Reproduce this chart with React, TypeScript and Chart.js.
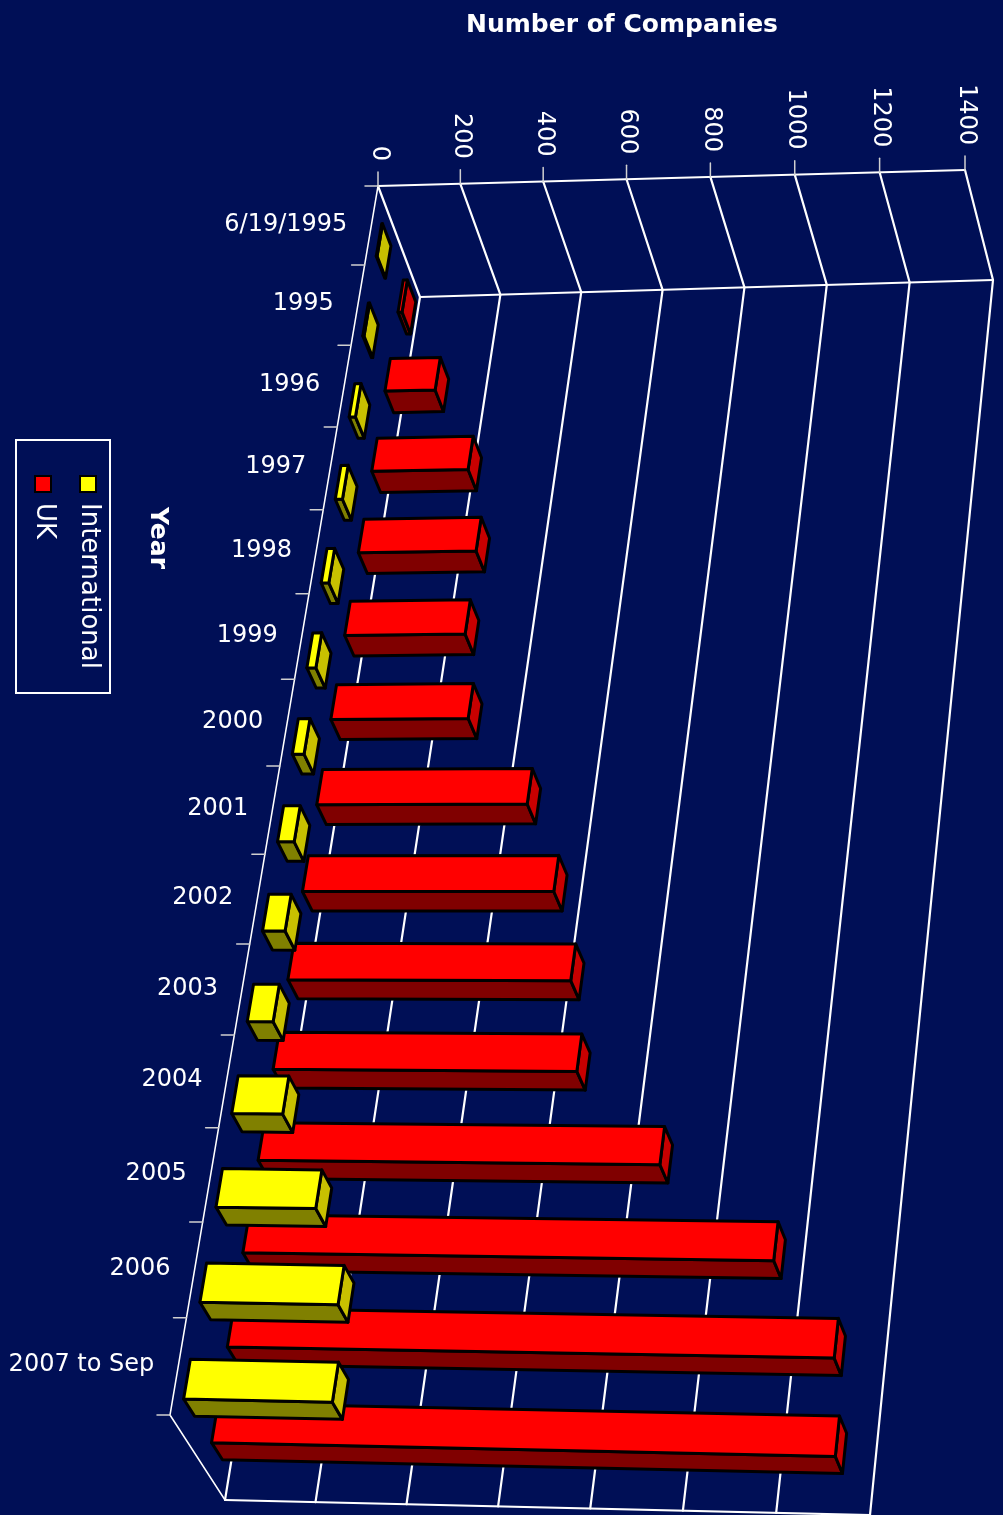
import React, { useEffect, useRef } from 'react';
import { Chart, registerables } from 'chart.js';

Chart.register(...registerables);

// ---- data ----
const categories = ['6/19/1995', '1995', '1996', '1997', '1998', '1999', '2000', '2001', '2002', '2003', '2004', '2005', '2006', '2007 to Sep'];
const ukValues = [10, 122, 232, 281, 285, 322, 488, 577, 643, 684, 894, 1166, 1318, 1342];
const internationalValues = [2, 3, 15, 17, 18, 21, 27, 38, 51, 58, 113, 219, 300, 320];
const valueMin = 0;
const valueMax = 1400;
const valueStep = 200;

// ---- style / frame geometry (perspective box) ----
const BG = '#000f56';
const FONT = '"DejaVu Sans", "Liberation Sans", sans-serif';
const FRONT = { o: [378, 186], u: [965, 170], t: [170, 1415], ut: [835, 1430] };
const BACK = { o: [420, 297], u: [993, 280], t: [225, 1500], ut: [870, 1515] };
const CU = 0.021;
const CT = 0.106;
const T_SHIFT = 0.0032;
const BAR_DX = 4;
const SERIES_STYLE: Record<string, { d1: number; d2: number; front: string; end: string; bottom: string }> = {
  International: { d1: 0.1, d2: 0.3, front: '#ffff00', end: '#c8c000', bottom: '#808000' },
  UK: { d1: 0.61, d2: 0.81, front: '#ff0000', end: '#c80000', bottom: '#800000' },
};

type Q = { o: number[]; u: number[]; t: number[]; ut: number[] };

function bil(q: Q, up: number, tp: number): [number, number] {
  const x = (1 - tp) * ((1 - up) * q.o[0] + up * q.u[0]) + tp * ((1 - up) * q.t[0] + up * q.ut[0]);
  const y = (1 - tp) * ((1 - up) * q.o[1] + up * q.u[1]) + tp * ((1 - up) * q.t[1] + up * q.ut[1]);
  return [x, y];
}

function proj(u: number, t: number, d: number): [number, number] {
  const up = (u * (1 - CU)) / (1 - CU * u);
  const tp = (t * (1 - CT)) / (1 - CT * t);
  const f = bil(FRONT, up, tp);
  const b = bil(BACK, up, tp);
  return [f[0] + (b[0] - f[0]) * d, f[1] + (b[1] - f[1]) * d];
}

function projBar(u: number, t: number, d: number): [number, number] {
  const p = proj(u, t, d);
  return [p[0] + BAR_DX, p[1]];
}

function line(ctx: CanvasRenderingContext2D, a: number[], b: number[]) {
  ctx.beginPath();
  ctx.moveTo(a[0], a[1]);
  ctx.lineTo(b[0], b[1]);
  ctx.stroke();
}

function poly(ctx: CanvasRenderingContext2D, pts: number[][], fill: string) {
  ctx.beginPath();
  ctx.moveTo(pts[0][0], pts[0][1]);
  for (let i = 1; i < pts.length; i++) ctx.lineTo(pts[i][0], pts[i][1]);
  ctx.closePath();
  ctx.fillStyle = fill;
  ctx.fill();
  ctx.stroke();
}

function rotText(ctx: CanvasRenderingContext2D, text: string, x: number, y: number, align: CanvasTextAlign) {
  ctx.save();
  ctx.translate(x, y);
  ctx.rotate(Math.PI / 2);
  ctx.textAlign = align;
  ctx.textBaseline = 'middle';
  ctx.fillText(text, 0, 0);
  ctx.restore();
}

function normalizers(chart: any) {
  const xs = chart.scales.x;
  const ys = chart.scales.y;
  const x0 = xs.getPixelForValue(valueMin);
  const x1 = xs.getPixelForValue(valueMax);
  const n = categories.length;
  const y0 = ys.getPixelForValue(-0.5);
  const y1 = ys.getPixelForValue(n - 0.5);
  return {
    xs,
    ys,
    nu: (px: number) => (px - x0) / (x1 - x0),
    nt: (py: number) => (py - y0) / (y1 - y0),
  };
}

const threeDPlugin = {
  id: 'threeD',
  beforeDraw(chart: any) {
    const ctx: CanvasRenderingContext2D = chart.ctx;
    const { xs, ys, nu, nt } = normalizers(chart);
    ctx.save();
    ctx.fillStyle = BG;
    ctx.fillRect(0, 0, chart.width, chart.height);

    ctx.lineCap = 'round';
    // gridlines across side wall and back wall
    ctx.strokeStyle = '#ffffff';
    ctx.lineWidth = 2.2;
    const ticks = xs.ticks as { value: number; label: string }[];
    ticks.forEach((tk) => {
      const u = nu(xs.getPixelForValue(tk.value));
      line(ctx, proj(u, 0, 0), proj(u, 0, 1));
      line(ctx, proj(u, 0, 1), proj(u, 1, 1));
    });
    // box edges
    line(ctx, proj(0, 0, 0), proj(1, 0, 0));
    line(ctx, proj(0, 0, 1), proj(1, 0, 1));
    line(ctx, proj(0, 1, 1), proj(1, 1, 1));
    ctx.lineWidth = 1.5;
    line(ctx, proj(0, 0, 0), proj(0, 1, 0));
    line(ctx, proj(0, 1, 0), proj(0, 1, 1));

    // value ticks + labels
    ctx.strokeStyle = '#d0d0d0';
    ctx.lineWidth = 1.5;
    ctx.fillStyle = '#ffffff';
    ctx.font = `24px ${FONT}`;
    ticks.forEach((tk) => {
      const u = nu(xs.getPixelForValue(tk.value));
      const p = proj(u, 0, 0);
      line(ctx, p, [p[0], p[1] - 14]);
      rotText(ctx, String(tk.label), p[0] + 1, p[1] - 25, 'right');
    });

    // category ticks + labels
    const n = categories.length;
    for (let i = 0; i <= n; i++) {
      const t = nt(ys.getPixelForValue(i - 0.5));
      const p = proj(0, t, 0);
      line(ctx, p, [p[0] - 13, p[1]]);
    }
    ctx.textAlign = 'right';
    ctx.textBaseline = 'middle';
    categories.forEach((c, i) => {
      const t = nt(ys.getPixelForValue(i));
      const p = proj(0, t, 0);
      ctx.fillText(c, p[0] - 24, p[1] - 1);
    });

    // titles
    ctx.font = `bold 25px ${FONT}`;
    ctx.textAlign = 'center';
    ctx.fillText('Number of Companies', 622, 25);
    rotText(ctx, 'Year', 157, 538, 'center');

    // legend
    ctx.strokeStyle = '#ffffff';
    ctx.lineWidth = 2;
    ctx.strokeRect(16, 440, 94, 253);
    const legendItems = [
      { name: 'International', x: 88 },
      { name: 'UK', x: 43 },
    ];
    ctx.font = `26px ${FONT}`;
    legendItems.forEach((it) => {
      const st = SERIES_STYLE[it.name];
      ctx.fillStyle = st.front;
      ctx.strokeStyle = '#000000';
      ctx.lineWidth = 2;
      ctx.fillRect(it.x - 8, 476, 16, 16);
      ctx.strokeRect(it.x - 8, 476, 16, 16);
      ctx.fillStyle = '#ffffff';
      rotText(ctx, it.name, it.x + 1, 503, 'left');
    });
    ctx.restore();
  },
  beforeDatasetsDraw() {
    return false;
  },
  afterDraw(chart: any) {
    const ctx: CanvasRenderingContext2D = chart.ctx;
    const { nu, nt } = normalizers(chart);
    ctx.save();
    ctx.strokeStyle = '#000000';
    ctx.lineWidth = 3;
    ctx.lineJoin = 'round';
    // back series first (UK), then front series (International)
    const order = chart.data.datasets
      .map((ds: any, i: number) => ({ ds, i }))
      .sort((a: any, b: any) => SERIES_STYLE[b.ds.label].d1 - SERIES_STYLE[a.ds.label].d1);
    order.forEach(({ ds, i }: any) => {
      const st = SERIES_STYLE[ds.label];
      const meta = chart.getDatasetMeta(i);
      meta.data.forEach((el: any) => {
        const p = el.getProps(['x', 'y', 'base', 'height'], true);
        const u0 = nu(p.base);
        const u1 = nu(p.x);
        const ta = nt(p.y - p.height / 2) + T_SHIFT;
        const tb = nt(p.y + p.height / 2) + T_SHIFT;
        const { d1, d2 } = st;
        poly(ctx, [projBar(u0, tb, d1), projBar(u1, tb, d1), projBar(u1, tb, d2), projBar(u0, tb, d2)], st.bottom);
        poly(ctx, [projBar(u1, ta, d1), projBar(u1, tb, d1), projBar(u1, tb, d2), projBar(u1, ta, d2)], st.end);
        poly(ctx, [projBar(u0, ta, d1), projBar(u1, ta, d1), projBar(u1, tb, d1), projBar(u0, tb, d1)], st.front);
      });
    });
    ctx.restore();
  },
};

export default function App() {
  const canvasRef = useRef<HTMLCanvasElement | null>(null);

  useEffect(() => {
    if (!canvasRef.current) return;
    const chart = new Chart(canvasRef.current, {
      type: 'bar',
      data: {
        labels: categories,
        datasets: [
          {
            label: 'International',
            data: internationalValues,
            backgroundColor: SERIES_STYLE.International.front,
            borderColor: '#000000',
            borderWidth: 2,
            grouped: false,
            barPercentage: 0.41,
            categoryPercentage: 1,
          } as any,
          {
            label: 'UK',
            data: ukValues,
            backgroundColor: SERIES_STYLE.UK.front,
            borderColor: '#000000',
            borderWidth: 2,
            grouped: false,
            barPercentage: 0.41,
            categoryPercentage: 1,
          } as any,
        ],
      },
      options: {
        indexAxis: 'y',
        animation: false,
        responsive: true,
        maintainAspectRatio: false,
        layout: { padding: 0 },
        plugins: {
          legend: { display: false },
          tooltip: { enabled: false },
          title: { display: false },
        },
        scales: {
          x: {
            type: 'linear',
            min: valueMin,
            max: valueMax,
            display: false,
            ticks: { stepSize: valueStep, callback: (v: any) => String(v) },
          },
          y: { type: 'category', display: false },
        },
      },
      plugins: [threeDPlugin as any],
    });
    return () => chart.destroy();
  }, []);

  return (
    <div style={{ position: 'absolute', left: 0, top: 0, width: 1003, height: 1515, background: BG, overflow: 'hidden' }}>
      <canvas ref={canvasRef} />
    </div>
  );
}
